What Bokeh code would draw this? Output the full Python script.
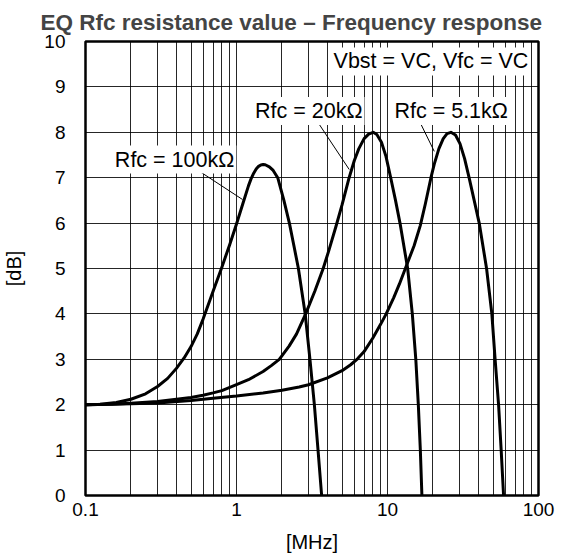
from bokeh.plotting import figure
from bokeh.models import (FixedTicker, SingleIntervalTicker, CustomJSTickFormatter,
                          Label, Range1d)
from bokeh.embed import file_html
from bokeh.resources import INLINE

# ---- data ----
freq_100k = [0.1, 0.125, 0.16, 0.2, 0.25, 0.3, 0.35, 0.4, 0.45, 0.5, 0.55, 0.6, 0.65, 0.7, 0.8, 0.9,
             1.0, 1.1, 1.2, 1.25, 1.3, 1.35, 1.4, 1.45, 1.5, 1.55, 1.65, 1.75, 1.875, 2.06, 2.24,
             2.40, 2.57, 2.85, 3.065, 3.278, 3.467, 3.663]
db_100k = [2.0, 2.01, 2.05, 2.12, 2.24, 2.40, 2.58, 2.80, 3.03, 3.28, 3.56, 3.88, 4.2, 4.5, 5.03, 5.52,
           5.98, 6.42, 6.82, 6.98, 7.1, 7.19, 7.25, 7.28, 7.29, 7.285, 7.24, 7.16, 7.0, 6.5, 6.0,
           5.5, 5.0, 4.0, 3.0, 2.0, 1.0, 0.0]

freq_20k = [0.1, 0.15, 0.2, 0.3, 0.4, 0.5, 0.6, 0.7, 0.8, 1.0, 1.2, 1.5, 1.7, 1.92, 2.23, 2.5,
            2.87, 3.3, 3.75, 4.1, 4.55, 5.0, 5.57, 6.03, 6.46, 7.0, 7.5, 8.04, 8.5, 9.12, 9.77,
            10.5, 11.3, 12.1, 13.6, 14.6, 15.4, 16.0, 16.5, 16.9]
db_20k = [2.0, 2.01, 2.03, 2.07, 2.12, 2.16, 2.21, 2.26, 2.31, 2.44, 2.55, 2.73, 2.86, 3.0, 3.29, 3.56,
          4.0, 4.5, 5.0, 5.41, 5.92, 6.4, 7.0, 7.38, 7.64, 7.86, 7.96, 8.0, 7.95, 7.78, 7.47,
          7.0, 6.5, 6.0, 5.0, 4.0, 3.0, 2.0, 1.0, 0.0]

freq_5k1 = [0.1, 0.2, 0.3, 0.5, 0.7, 1.0, 1.5, 2.0, 2.6, 3.0, 4.0, 5.0, 5.7, 6.33, 7.0, 8.0,
            9.0, 9.8, 11.0, 12.0, 13.3, 15.0, 16.5, 17.8, 19.4, 20.4, 21.9, 23.4, 24.8, 26.3,
            28.2, 30.2, 32.4, 34.7, 37.5, 40.5, 45.3, 49.1, 51.6, 54.4, 56.6, 58.7]
db_5k1 = [2.0, 2.02, 2.04, 2.09, 2.14, 2.19, 2.26, 2.32, 2.39, 2.44, 2.59, 2.75, 2.88, 3.01, 3.17, 3.47,
          3.77, 4.0, 4.36, 4.66, 5.05, 5.5, 5.95, 6.42, 7.0, 7.3, 7.64, 7.86, 7.97, 8.0,
          7.94, 7.75, 7.42, 7.0, 6.5, 6.0, 5.0, 4.0, 3.0, 2.0, 1.0, 0.0]

x_ticks = [0.1, 1, 10, 100]
x_minor = [m * d for d in (0.1, 1, 10) for m in range(2, 10)]

label_texts = ["Rfc = 100k\u03a9", "Rfc = 20k\u03a9", "Rfc = 5.1k\u03a9", "Vbst = VC, Vfc = VC"]
label_x = [0.389, 3.01, 26.4, 19.4]
label_y = [7.40, 8.47, 8.47, 9.56]

leader_x = [[0.569, 1.096], [3.54, 5.58], [16.7, 20.4]]
leader_y = [[7.14, 6.52], [8.17, 7.18], [8.17, 7.58]]

FONT = "Liberation Sans"

p = figure(frame_width=453, frame_height=454, x_axis_type="log", output_backend="svg",
           toolbar_location=None, x_range=Range1d(0.1, 100), y_range=Range1d(0, 10),
           min_border_left=78, min_border_right=35, min_border_top=34, min_border_bottom=56)

p.title.text = "EQ Rfc resistance value \u2013 Frequency response"
p.title.text_font = FONT
p.title.text_font_size = "22.5px"
p.title.text_font_style = "bold"
p.title.align = "left"
p.title.offset = -45
p.title.standoff = 14

for ax in (p.xaxis[0], p.yaxis[0]):
    ax.axis_line_color = None
    ax.major_tick_line_color = None
    ax.minor_tick_line_color = None
    ax.major_label_text_font = FONT
    ax.major_label_text_font_size = "19px"
    ax.major_label_text_color = "black"
    ax.axis_label_text_font = FONT
    ax.axis_label_text_font_size = "20px"
    ax.axis_label_text_font_style = "normal"
    ax.axis_label_text_color = "black"

p.xaxis.ticker = FixedTicker(ticks=x_ticks, minor_ticks=x_minor)
p.xaxis.formatter = CustomJSTickFormatter(code="return tick.toString();")
p.xaxis.major_label_standoff = 1
p.xaxis.axis_label = "[MHz]"
p.xaxis.axis_label_standoff = 12

p.yaxis.ticker = SingleIntervalTicker(interval=1)
p.yaxis.major_label_standoff = 14
p.yaxis.axis_label = "[dB]"
p.yaxis.axis_label_standoff = 16

p.xgrid.grid_line_color = "black"
p.xgrid.grid_line_alpha = 0.85
p.xgrid.minor_grid_line_color = "black"
p.xgrid.minor_grid_line_alpha = 0.85
p.ygrid.grid_line_color = "black"
p.ygrid.grid_line_alpha = 0.85

p.outline_line_color = "black"
p.outline_line_width = 2.5
p.background_fill_color = "white"

for fx, fy in ((freq_100k, db_100k), (freq_20k, db_20k), (freq_5k1, db_5k1)):
    p.line(fx, fy, line_color="black", line_width=3, line_join="round")

for lx, ly in zip(leader_x, leader_y):
    p.line(lx, ly, line_color="black", line_width=1)

for t, lx, ly in zip(label_texts, label_x, label_y):
    p.add_layout(Label(x=lx, y=ly, text=t, text_align="center", text_baseline="middle",
                       text_font=FONT, text_font_size="21.5px", text_color="black",
                       background_fill_color="white", padding=2))

open("out.html", "w").write(file_html(p, INLINE))
